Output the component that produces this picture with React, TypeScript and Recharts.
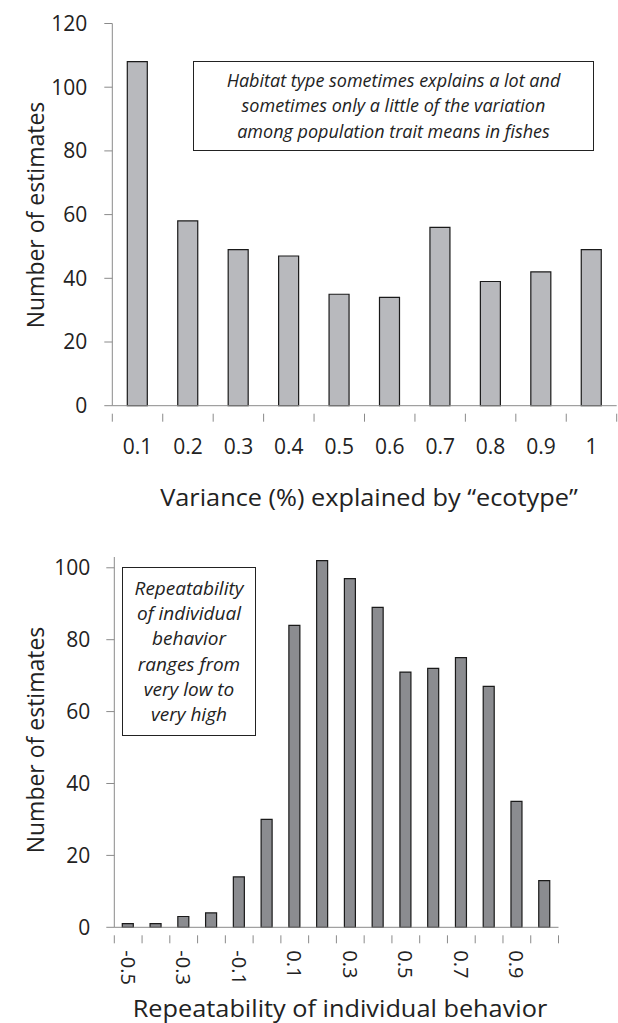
import { BarChart, Bar, XAxis, YAxis } from "recharts";

// top panel: variance explained by ecotype
const ecotypeBins = ["0.1", "0.2", "0.3", "0.4", "0.5", "0.6", "0.7", "0.8", "0.9", "1"];
const ecotypeCounts = [108, 58, 49, 47, 35, 34, 56, 39, 42, 49];
const ecotypeTicks = [0, 20, 40, 60, 80, 100, 120];

// bottom panel: repeatability of behaviour
const repBins = ["-0.5", "-0.4", "-0.3", "-0.2", "-0.1", "0", "0.1", "0.2", "0.3", "0.4", "0.5", "0.6", "0.7", "0.8", "0.9", "1"];
const repCounts = [1, 1, 3, 4, 14, 30, 84, 102, 97, 89, 71, 72, 75, 67, 35, 13];
const repTicks = [0, 20, 40, 60, 80, 100];

const FONT = "'Open Sans', sans-serif";
const AXIS = "#8a8a8a";
const INK = "#222";

const topData = ecotypeBins.map((bin, i) => ({ bin, count: ecotypeCounts[i] }));
const bottomData = repBins.map((bin, i) => ({ bin, count: repCounts[i] }));

const TOP_W = 618, TOP_H = 520;
const TOP_M = { top: 23.5, right: 1.3, left: 0, bottom: 84.3 };
const TOP_YW = 112.3;
const topHalfBand = (TOP_W - TOP_M.left - TOP_M.right - TOP_YW) / ecotypeBins.length / 2;

const BOT_W = 618, BOT_H = 483;
const BOT_M = { top: 17, right: 59.5, left: 0, bottom: 65.7 };
const BOT_YW = 114.3;
const botHalfBand = (BOT_W - BOT_M.left - BOT_M.right - BOT_YW) / repBins.length / 2;

const TopTick = (props: any) => {
  const { x, y, payload } = props;
  const idx = props.index ?? payload.index;
  const last = idx === ecotypeBins.length - 1;
  return (
    <g>
      <line x1={x - topHalfBand} x2={x - topHalfBand} y1={y} y2={y + 8} stroke={AXIS} />
      {last && <line x1={x + topHalfBand} x2={x + topHalfBand} y1={y} y2={y + 8} stroke={AXIS} />}
      <text x={x} y={y + 32} textAnchor="middle" dominantBaseline="central" fill={INK} fontSize={21} fontFamily={FONT}>
        {payload.value}
      </text>
    </g>
  );
};

const BottomTick = (props: any) => {
  const { x, y, payload } = props;
  const idx = props.index ?? payload.index;
  const last = idx === repBins.length - 1;
  return (
    <g>
      <line x1={x - botHalfBand} x2={x - botHalfBand} y1={y} y2={y + 8} stroke={AXIS} />
      {last && <line x1={x + botHalfBand} x2={x + botHalfBand} y1={y} y2={y + 8} stroke={AXIS} />}
      {idx % 2 === 0 && (
        <text
          x={x}
          y={y + 15}
          transform={`rotate(90 ${x} ${y + 15})`}
          textAnchor="start"
          dominantBaseline="central"
          fill={INK}
          fontSize={20}
          fontFamily={FONT}
        >
          {payload.value}
        </text>
      )}
    </g>
  );
};

const boxText = {
  position: "absolute" as const,
  border: `1px solid ${INK}`,
  background: "#fff",
  display: "flex",
  flexDirection: "column" as const,
  justifyContent: "center",
  alignItems: "center",
  fontFamily: FONT,
  fontStyle: "italic",
  color: INK,
  textAlign: "center" as const,
  boxSizing: "border-box" as const,
  whiteSpace: "nowrap" as const,
};

const title = {
  position: "absolute" as const,
  fontFamily: FONT,
  fontSize: 23,
  color: INK,
  whiteSpace: "nowrap" as const,
};

export default function App() {
  return (
    <div style={{ position: "absolute", left: 0, top: 0, width: 618, height: 1023, background: "#fff", overflow: "hidden" }}>
      <div style={{ position: "absolute", left: 0, top: 0 }}>
        <BarChart width={TOP_W} height={TOP_H} data={topData} margin={TOP_M}>
          <XAxis
            dataKey="bin"
            interval={0}
            tick={TopTick}
            tickLine={false}
            axisLine={{ stroke: AXIS }}
            height={30}
          />
          <YAxis
            width={TOP_YW}
            domain={[0, 120]}
            ticks={ecotypeTicks}
            tickSize={8}
            tickMargin={17}
            axisLine={{ stroke: AXIS }}
            tickLine={{ stroke: AXIS }}
            tick={{ fill: INK, fontSize: 21, fontFamily: FONT }}
          />
          <Bar dataKey="count" fill="#b8b9bd" stroke="#1a1a1a" strokeWidth={1.2} barSize={20} isAnimationActive={false} />
        </BarChart>
      </div>

      <div style={{ position: "absolute", left: 0, top: 540 }}>
        <BarChart width={BOT_W} height={BOT_H} data={bottomData} margin={BOT_M}>
          <XAxis
            dataKey="bin"
            interval={0}
            tick={BottomTick}
            tickLine={false}
            axisLine={{ stroke: AXIS }}
            height={30}
          />
          <YAxis
            width={BOT_YW}
            domain={[0, 103]}
            ticks={repTicks}
            tickSize={8}
            tickMargin={16}
            axisLine={{ stroke: AXIS }}
            tickLine={{ stroke: AXIS }}
            tick={{ fill: INK, fontSize: 21, fontFamily: FONT }}
          />
          <Bar dataKey="count" fill="#8b8c90" stroke="#1a1a1a" strokeWidth={1.2} barSize={11} isAnimationActive={false} />
        </BarChart>
      </div>

      {/* axis titles */}
      <div style={{ ...title, left: 35, top: 215, transform: "translate(-50%, -50%) rotate(-90deg)" }}>
        Number of estimates
      </div>
      <div style={{ ...title, left: 369, top: 497, transform: "translate(-50%, -50%) scaleX(1.1)" }}>
        Variance (%) explained by “ecotype”
      </div>
      <div style={{ ...title, left: 35, top: 740, transform: "translate(-50%, -50%) rotate(-90deg)" }}>
        Number of estimates
      </div>
      <div style={{ ...title, left: 340, top: 1008, transform: "translate(-50%, -50%) scaleX(1.1)" }}>
        Repeatability of individual behavior
      </div>

      {/* annotation boxes */}
      <div style={{ ...boxText, left: 193, top: 61, width: 401, height: 90, fontSize: 18, lineHeight: "25.5px" }}>
        <div>Habitat type sometimes explains a lot and</div>
        <div>sometimes only a little of the variation</div>
        <div>among population trait means in fishes</div>
      </div>
      <div style={{ ...boxText, left: 122, top: 567, width: 134, height: 169, fontSize: 19, lineHeight: "25.3px" }}>
        <div>Repeatability</div>
        <div>of individual</div>
        <div>behavior</div>
        <div>ranges from</div>
        <div>very low to</div>
        <div>very high</div>
      </div>
    </div>
  );
}
